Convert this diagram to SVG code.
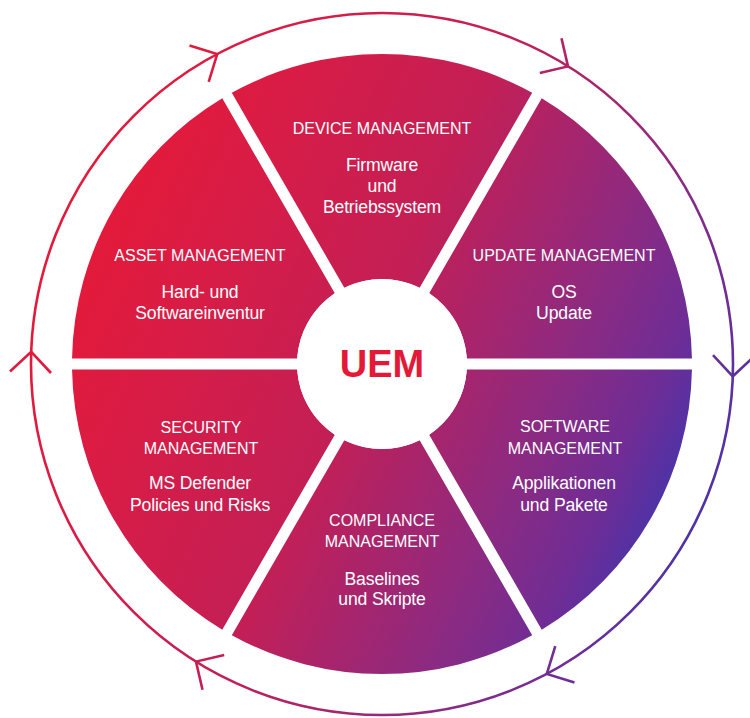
<svg xmlns="http://www.w3.org/2000/svg" width="750" height="718" viewBox="0 0 750 718">
  <defs>
    <linearGradient id="fillGrad" gradientUnits="userSpaceOnUse" x1="171.3" y1="77.5" x2="736.1" y2="332.9">
      <stop offset="0" stop-color="#E31A3A"/>
      <stop offset="0.15" stop-color="#DA1C44"/>
      <stop offset="0.47" stop-color="#C31F56"/>
      <stop offset="0.76" stop-color="#8E2A80"/>
      <stop offset="0.92" stop-color="#6E2D96"/>
      <stop offset="1" stop-color="#5032A5"/>
    </linearGradient>
    <linearGradient id="ringGrad" gradientUnits="userSpaceOnUse" x1="133.9" y1="60.6" x2="773.4" y2="349.8">
      <stop offset="0" stop-color="#E31A3A"/>
      <stop offset="0.15" stop-color="#DA1C44"/>
      <stop offset="0.47" stop-color="#C31F56"/>
      <stop offset="0.76" stop-color="#8E2A80"/>
      <stop offset="0.92" stop-color="#6E2D96"/>
      <stop offset="1" stop-color="#5032A5"/>
    </linearGradient>
    <style>
      .sector { fill: url(#fillGrad); }
      .ring { fill: none; stroke: url(#ringGrad); stroke-width: 2.6; }
      .chev { fill: none; stroke: url(#ringGrad); stroke-width: 2.6; stroke-linecap: butt; stroke-linejoin: miter; }
      .title { font-family: "Liberation Sans", Arial, sans-serif; font-size: 16px; fill: #FFFFFF; text-anchor: middle; }
      .body { font-family: "Liberation Sans", Arial, sans-serif; font-size: 17.6px; letter-spacing: -0.15px; fill: #FFFFFF; text-anchor: middle; }
      .uem { font-family: "Liberation Sans", Arial, sans-serif; font-size: 38px; font-weight: bold; fill: #E31937; text-anchor: middle; }
    </style>
  </defs>

  <rect width="750" height="718" fill="#FFFFFF"/>

  <g id="connectors">
    <circle class="ring" cx="382" cy="364" r="351"/>
    <path class="chev" d="M189.5,45.6 L217.2,54.1 L208.7,81.8"/>
    <path class="chev" d="M561.5,38.2 L568.0,66.4 L539.8,72.9"/>
    <path class="chev" d="M754.0,356.5 L732.8,376.3 L713.0,355.1"/>
    <path class="chev" d="M574.5,682.4 L546.8,673.9 L555.3,646.2"/>
    <path class="chev" d="M202.5,689.8 L196.0,661.6 L224.2,655.1"/>
    <path class="chev" d="M10.0,371.5 L31.2,351.8 L51.0,373.0"/>
  </g>

  <g id="device-management">
    <path class="sector" d="M344.35,287.79 L231.79,92.82 A310,310 0 0 1 532.21,92.82 L419.65,287.79 A85,85 0 0 0 344.35,287.79 Z"/>
    <text class="title" x="382" y="134">DEVICE MANAGEMENT</text>
    <text class="body" x="382" y="171">Firmware</text>
    <text class="body" x="382" y="192">und</text>
    <text class="body" x="382" y="213">Betriebssystem</text>
  </g>

  <g id="update-management">
    <path class="sector" d="M429.17,293.29 L541.74,98.32 A310,310 0 0 1 691.95,358.5 L466.82,358.5 A85,85 0 0 0 429.17,293.29 Z"/>
    <text class="title" x="564" y="261">UPDATE MANAGEMENT</text>
    <text class="body" x="564" y="298">OS</text>
    <text class="body" x="564" y="319">Update</text>
  </g>

  <g id="software-management">
    <path class="sector" d="M466.82,369.5 L691.95,369.5 A310,310 0 0 1 541.74,629.68 L429.17,434.71 A85,85 0 0 0 466.82,369.5 Z"/>
    <text class="title" x="565" y="432">SOFTWARE</text>
    <text class="title" x="565" y="454">MANAGEMENT</text>
    <text class="body" x="564" y="489">Applikationen</text>
    <text class="body" x="564" y="511">und Pakete</text>
  </g>

  <g id="compliance-management">
    <path class="sector" d="M419.65,440.21 L532.21,635.18 A310,310 0 0 1 231.79,635.18 L344.35,440.21 A85,85 0 0 0 419.65,440.21 Z"/>
    <text class="title" x="382" y="526">COMPLIANCE</text>
    <text class="title" x="382" y="547">MANAGEMENT</text>
    <text class="body" x="382" y="585">Baselines</text>
    <text class="body" x="382" y="605">und Skripte</text>
  </g>

  <g id="security-management">
    <path class="sector" d="M334.83,434.71 L222.26,629.68 A310,310 0 0 1 72.05,369.5 L297.18,369.5 A85,85 0 0 0 334.83,434.71 Z"/>
    <text class="title" x="201" y="433">SECURITY</text>
    <text class="title" x="201" y="454">MANAGEMENT</text>
    <text class="body" x="200" y="489">MS Defender</text>
    <text class="body" x="200" y="511">Policies und Risks</text>
  </g>

  <g id="asset-management">
    <path class="sector" d="M297.18,358.5 L72.05,358.5 A310,310 0 0 1 222.26,98.32 L334.83,293.29 A85,85 0 0 0 297.18,358.5 Z"/>
    <text class="title" x="200" y="261">ASSET MANAGEMENT</text>
    <text class="body" x="200" y="298">Hard- und</text>
    <text class="body" x="200" y="319">Softwareinventur</text>
  </g>

  <g id="uem-center">
    <circle cx="382" cy="364" r="85" fill="#FFFFFF"/>
    <text class="uem" x="382" y="377">UEM</text>
  </g>
</svg>
